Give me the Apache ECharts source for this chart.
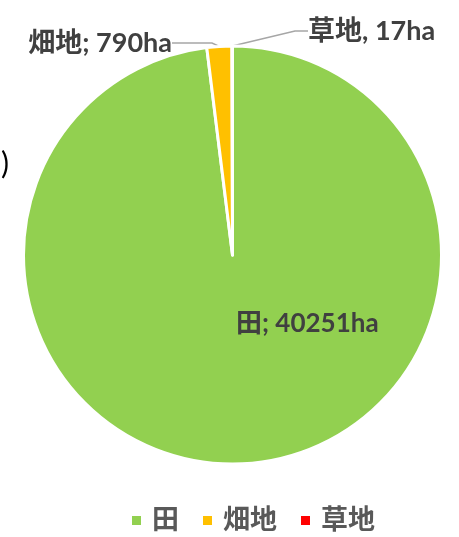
<!DOCTYPE html>
<html>
<head>
<meta charset="utf-8">
<script src="https://cdn.jsdelivr.net/npm/echarts@6/dist/echarts.min.js"></script>
<style>html,body{margin:0;padding:0;background:#fff;}#c{width:459px;height:537px;}</style>
</head>
<body>
<div id="c"></div>
<script>
const categories = ['田', '畑地', '草地'];
const values = [40251, 790, 17];
const separators = ['; ', '; ', ', '];
const colors = ['#92D050', '#FFC000', '#FF0000'];

const FONT = 'Lato, "Noto Sans CJK JP", sans-serif';

const labelPlace = [
  { x: 236, y: 324, align: 'left', verticalAlign: 'middle' },
  { x: 178, y: 43, align: 'right', verticalAlign: 'middle' },
  { x: 303, y: 31, align: 'left', verticalAlign: 'middle' }
];
const labelPadding = [[0, 0, 0, 0], [0, 6, 16, 0], [0, 0, 22, 5]];
const lineLen2 = [0, 40, 13];

const chart = echarts.init(document.getElementById('c'), null, { renderer: 'canvas' });
chart.setOption({
  animation: false,
  color: colors,
  legend: {
    data: categories,
    left: 130,
    top: 507,
    padding: 0,
    icon: 'rect',
    itemWidth: 11,
    itemHeight: 11,
    itemGap: 22,
    textStyle: { fontFamily: FONT, fontSize: 27, fontWeight: 'bold', color: '#595959', padding: [0, 0, 0, 5] }
  },
  graphic: [{
    type: 'text', left: 1, top: 149,
    style: { text: ')', fontSize: 30, fontFamily: FONT, fill: '#000000' }
  }],
  series: [{
    type: 'pie',
    center: [232.5, 255],
    radius: 209,
    startAngle: 90,
    clockwise: true,
    avoidLabelOverlap: false,
    itemStyle: { borderColor: '#ffffff', borderWidth: 3 },
    labelLayout: function (p) { return labelPlace[p.dataIndex]; },
    data: categories.map((name, i) => ({
      name: name,
      value: values[i],
      label: {
        show: true,
        position: i === 0 ? 'inside' : 'outside',
        formatter: p => p.name + separators[p.dataIndex] + p.value + 'ha',
        fontFamily: FONT,
        fontSize: i === 0 ? 26 : 27,
        fontWeight: 'bold',
        color: '#404040',
        padding: labelPadding[i]
      },
      labelLine: {
        show: i !== 0,
        length: 4,
        length2: lineLen2[i],
        lineStyle: { color: '#A6A6A6', width: 1.5 }
      }
    }))
  }]
});
</script>
</body>
</html>
